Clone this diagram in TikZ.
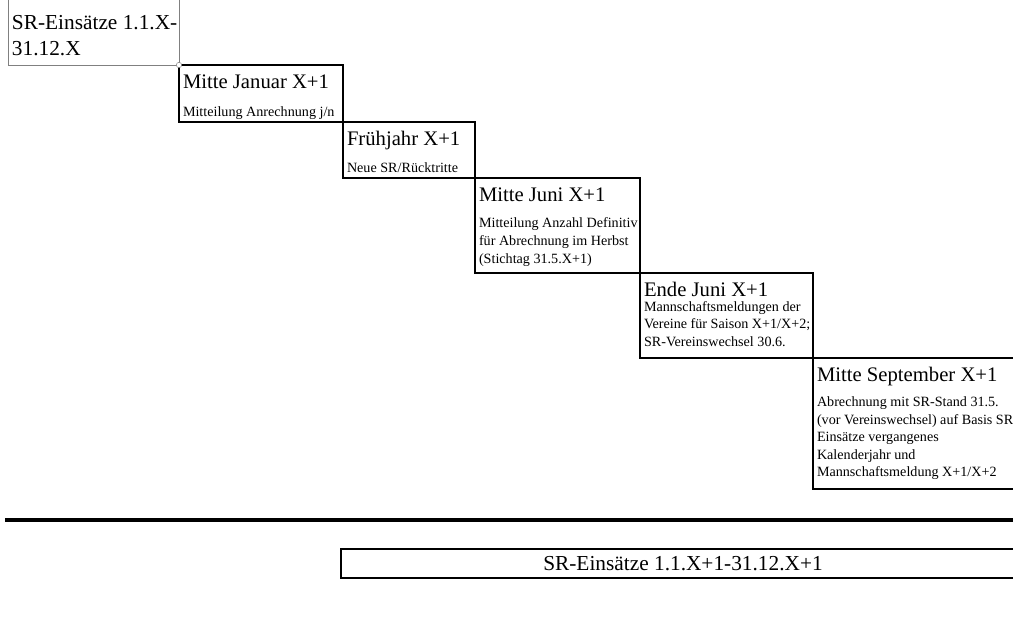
\documentclass[tikz,border=0pt]{standalone}
\usepackage{fontspec}
\setmainfont{Liberation Serif}
\usetikzlibrary{positioning}
\newlength\pxu
\setlength\pxu{0.75pt}
\newcommand\titlefont{\fontsize{15.5}{18}\selectfont}
\newcommand\bodyfont{\fontsize{10.6}{13.2}\selectfont}
\newcommand\boxtext[3]{\makebox[\dimexpr#1\pxu-6pt\relax][l]{\parbox[t][\dimexpr#2\pxu-4pt\relax][t]{400pt}{\raggedright #3}}}
\newcommand\steptitle[2]{{\titlefont\rule{0pt}{16pt}#1}\\[#2]\bodyfont}
\tikzset{
  firstbox/.style={draw=gray,line width=0.6pt,anchor=north west,inner xsep=3pt,inner ysep=2pt,outer sep=0pt},
  stepbox/.style={draw,line width=1.5pt,anchor=north west,inner xsep=3pt,inner ysep=2pt,outer sep=0pt},
  periodbox/.style={draw,line width=1.5pt,anchor=north west,outer sep=0pt,minimum width=513pt,minimum height=21.75pt,font=\fontsize{16}{18}\selectfont}
}
\begin{document}
\begin{tikzpicture}[x=0.75pt,y=-0.75pt]
\useasboundingbox (0,0) rectangle (1013,634);
%start
\node[firstbox] (start) at (8,-1) {\boxtext{171}{66}{\fontsize{16}{19.5}\selectfont\rule{0pt}{21.25pt}SR-Einsätze 1.1.X-\\31.12.X}};
%steps
\node[stepbox] (jan) at (start.south east) {\boxtext{164}{57}{\steptitle{Mitte Januar X+1}{7.5pt}Mitteilung Anrechnung j/n}};
\node[stepbox] (spring) at (jan.south east) {\boxtext{132}{56}{\steptitle{Frühjahr X+1}{6.8pt}Neue SR/Rücktritte}};
\node[stepbox] (june) at (spring.south east) {\boxtext{165}{95}{\steptitle{Mitte Juni X+1}{6.2pt}Mitteilung Anzahl Definitiv\\für Abrechnung im Herbst\\(Stichtag 31.5.X+1)}};
\node[stepbox] (juneEnd) at (june.south east) {\boxtext{173}{85}{\steptitle{Ende Juni X+1}{-2.5pt}Mannschaftsmeldungen der\\Vereine für Saison X+1/X+2;\\SR-Vereinswechsel 30.6.}};
\node[stepbox] (sept) at (juneEnd.south east) {\boxtext{240}{131}{\steptitle{Mitte September X+1}{5.2pt}Abrechnung mit SR-Stand 31.5.\\(vor Vereinswechsel) auf Basis SR-\\Einsätze vergangenes\\Kalenderjahr und\\Mannschaftsmeldung X+1/X+2}};
\draw[gray,fill=white] (start.south east) circle (2pt);
%season
\draw[line width=3pt] (5,520) coordinate(lineL) -- (1013,520) coordinate(lineR);
\node[periodbox] (period) at (341,549) {SR-Einsätze 1.1.X+1-31.12.X+1};
\end{tikzpicture}
\end{document}
